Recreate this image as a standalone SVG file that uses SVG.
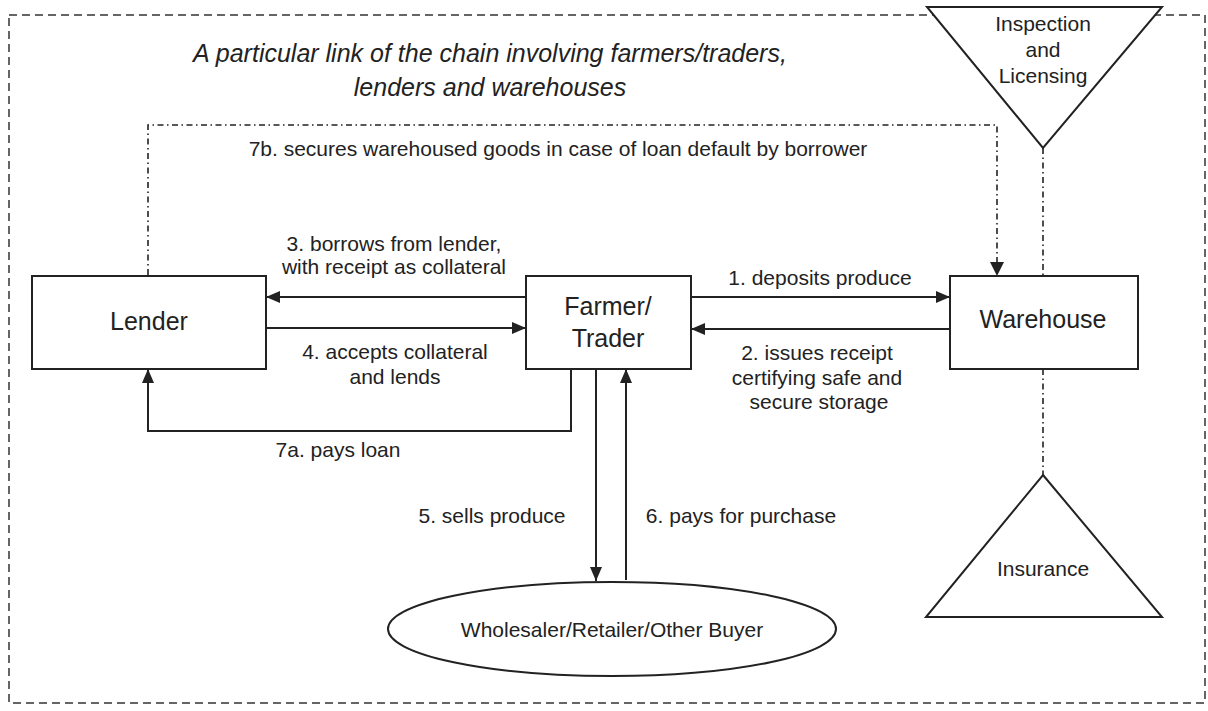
<svg xmlns="http://www.w3.org/2000/svg" width="1208" height="711" viewBox="0 0 1208 711">
  <style>
    .box { fill: #fff; stroke: #222; stroke-width: 2; }
    .line { fill: none; stroke: #222; stroke-width: 2; }
    .dashdot { fill: none; stroke: #222; stroke-width: 1.6; stroke-dasharray: 6 3.5 1.5 3.5; }
    .frame { fill: none; stroke: #333; stroke-width: 1.5; stroke-dasharray: 8 5; }
    .lbl { font-family: "Liberation Sans", Arial, sans-serif; font-size: 21px; fill: #222; text-anchor: middle; }
    .node { font-family: "Liberation Sans", Arial, sans-serif; font-size: 25px; fill: #222; text-anchor: middle; }
    .small { font-family: "Liberation Sans", Arial, sans-serif; font-size: 21px; fill: #222; text-anchor: middle; }
    .title { font-family: "Liberation Sans", Arial, sans-serif; font-style: italic; font-size: 25px; fill: #222; text-anchor: middle; }
  </style>
  <defs>
    <marker id="arrow" viewBox="0 0 14 12" refX="14" refY="6" markerWidth="14" markerHeight="12" markerUnits="userSpaceOnUse" orient="auto">
      <path d="M0,0 L14,6 L0,12 Z" fill="#222"/>
    </marker>
  </defs>

  <rect width="1208" height="711" fill="#fff"/>

  <!-- outer dashed frame -->
  <rect class="frame" x="9" y="15" width="1196" height="688"/>

  <!-- heading -->
  <g id="title">
    <text class="title" x="490" y="62">A particular link of the chain involving farmers/traders,</text>
    <text class="title" x="490" y="96">lenders and warehouses</text>
  </g>

  <!-- connectors -->
  <g id="connectors">
    <!-- 7b: lender to warehouse, dash-dot -->
    <path class="dashdot" d="M148,275 V125 H997 V262" />
    <path d="M990,262 L997,276 L1004,262 Z" fill="#222"/>
    <!-- inspection to warehouse -->
    <path class="dashdot" d="M1043,148 V276" />
    <!-- warehouse to insurance -->
    <path class="dashdot" d="M1043,369 V475" />
    <!-- 3: farmer to lender -->
    <path class="line" d="M526,297 H266" marker-end="url(#arrow)"/>
    <!-- 4: lender to farmer -->
    <path class="line" d="M266,328 H526" marker-end="url(#arrow)"/>
    <!-- 1: farmer to warehouse -->
    <path class="line" d="M691,297 H950" marker-end="url(#arrow)"/>
    <!-- 2: warehouse to farmer -->
    <path class="line" d="M950,329 H691" marker-end="url(#arrow)"/>
    <!-- 7a: farmer pays lender -->
    <path class="line" d="M571,369 V431 H148 V369" marker-end="url(#arrow)"/>
    <!-- 5: farmer to buyer -->
    <path class="line" d="M596,369 V581" marker-end="url(#arrow)"/>
    <!-- 6: buyer to farmer -->
    <path class="line" d="M626,580 V369" marker-end="url(#arrow)"/>
  </g>

  <!-- connector labels -->
  <g id="labels" xml:space="preserve">
    <text class="lbl" x="558" y="156">7b.  secures warehoused goods in case of loan default by borrower</text>
    <text class="lbl" x="394" y="251">3.  borrows from lender,</text>
    <text class="lbl" x="394" y="274">with receipt as collateral</text>
    <text class="lbl" x="395" y="359">4.  accepts collateral</text>
    <text class="lbl" x="395" y="384">and lends</text>
    <text class="lbl" x="820" y="285">1.  deposits produce</text>
    <text class="lbl" x="817" y="360">2.  issues receipt</text>
    <text class="lbl" x="817" y="385">certifying safe and</text>
    <text class="lbl" x="819" y="409">secure storage</text>
    <text class="lbl" x="338" y="457">7a.  pays loan</text>
    <text class="lbl" x="492" y="523">5.  sells produce</text>
    <text class="lbl" x="741" y="523">6.  pays for purchase</text>
  </g>

  <g id="lender">
    <rect class="box" x="32" y="276" width="234" height="93"/>
    <text class="node" x="149" y="330">Lender</text>
  </g>

  <g id="farmer">
    <rect class="box" x="526" y="276" width="165" height="93"/>
    <text class="node" x="608" y="315">Farmer/</text>
    <text class="node" x="608" y="347">Trader</text>
  </g>

  <g id="warehouse">
    <rect class="box" x="950" y="276" width="188" height="93"/>
    <text class="node" x="1043" y="328">Warehouse</text>
  </g>

  <g id="inspection">
    <path class="box" d="M927,7 L1162,7 L1043,148 Z"/>
    <text class="small" x="1043" y="31">Inspection</text>
    <text class="small" x="1043" y="57">and</text>
    <text class="small" x="1043" y="83">Licensing</text>
  </g>

  <g id="insurance">
    <path class="box" d="M1043,475 L1162,617 L926,617 Z"/>
    <text class="small" x="1043" y="576">Insurance</text>
  </g>

  <g id="buyer">
    <ellipse class="box" cx="612" cy="629" rx="224" ry="47"/>
    <text class="small" x="612" y="637">Wholesaler/Retailer/Other Buyer</text>
  </g>
</svg>
